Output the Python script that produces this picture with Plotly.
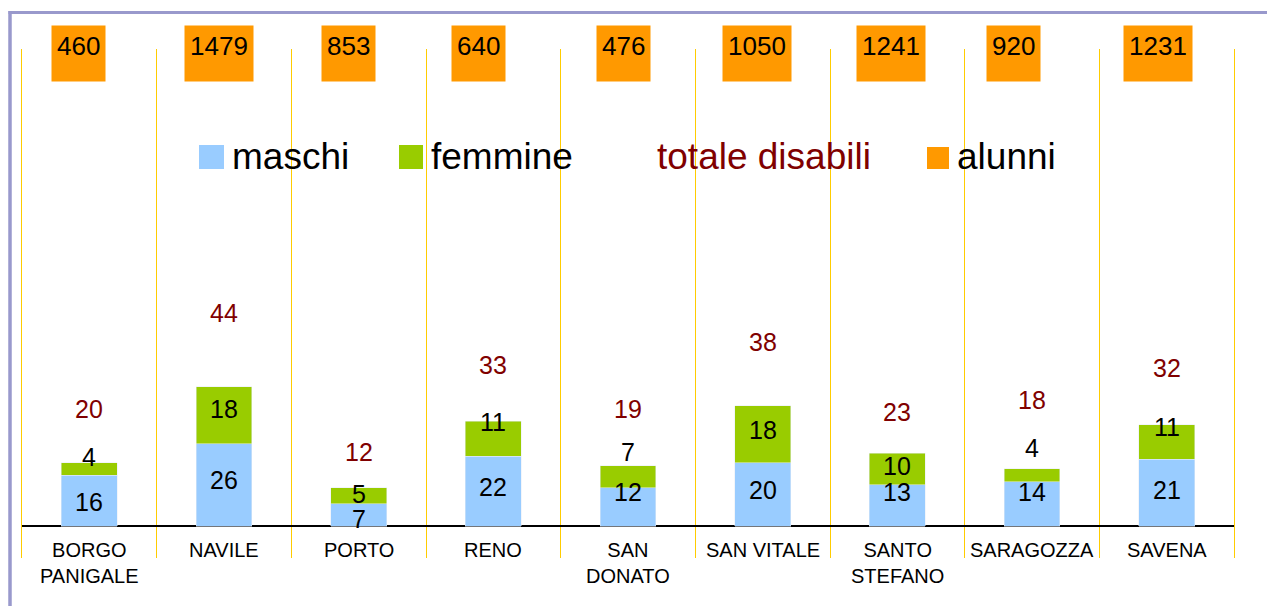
import plotly.graph_objects as go

# data
quartieri = ["BORGO<br>PANIGALE", "NAVILE", "PORTO", "RENO", "SAN<br>DONATO",
             "SAN VITALE", "SANTO<br>STEFANO", "SARAGOZZA", "SAVENA"]
maschi = [16, 26, 7, 22, 12, 20, 13, 14, 21]
femmine = [4, 18, 5, 11, 7, 18, 10, 4, 11]
totale_disabili = [20, 44, 12, 33, 19, 38, 23, 18, 32]
alunni = [460, 1479, 853, 640, 476, 1050, 1241, 920, 1231]

legend_names = ["maschi", "femmine", "totale disabili", "alunni"]

# label nudges in px (the original labels were dragged around a bit)
shift_tot = [54, 74, 36, 56, 57, 64, 41, 69, 57]
shift_fem = [12, 6, 2, 17, 25, 4, 3, 27, 15]
shift_mas = [-1, 5, -4, 4, 15, 4, 13, 12, 3]
shift_alunni = [-11, -5.5, -10, -15, -4.5, -5.5, -6.5, -18.5, -8.5]

BLUE = "#99CCFF"
GREEN = "#99CC00"
ORANGE = "#FF9900"
DARKRED = "#800000"
GOLD = "#FFCC00"
FONT = "Liberation Sans, Arial, sans-serif"

# the page body has an 8px margin, so the figure is a bit smaller than the window
OFF = 8
W, H = 1275 - OFF, 606 - OFF

# plot area in window px: x 22..1234, y 49..558
L, R, T, B = 22, 1234, 49, 558
PX_PER_UNIT = 3.17
ZERO_Y = 526


def paper_x(px):
    return (px - L) / (R - L)


def paper_y(py):
    return (B - py) / (B - T)


fig = go.Figure()
fig.add_trace(go.Bar(x=quartieri, y=maschi, name="maschi", marker_color=BLUE,
                     width=0.415, hoverinfo="x+y"))
fig.add_trace(go.Bar(x=quartieri, y=femmine, name="femmine", marker_color=GREEN,
                     width=0.415, hoverinfo="x+y"))

ann = []
for i, q in enumerate(quartieri):
    m, f, t = maschi[i], femmine[i], totale_disabili[i]
    ann.append(dict(x=q, y=m / 2, text=str(m), yshift=shift_mas[i],
                    font=dict(size=25, color="black")))
    ann.append(dict(x=q, y=m + f / 2, text=str(f), yshift=shift_fem[i],
                    font=dict(size=25, color="black")))
    ann.append(dict(x=q, y=t, text=str(t), yshift=shift_tot[i],
                    font=dict(size=25, color=DARKRED)))
    # category label under the axis
    ann.append(dict(x=q, y=0, text=q, yanchor="top", yshift=-11,
                    font=dict(size=20, color="black")))
    # alunni box on top
    ann.append(dict(x=q, y=paper_y(25), yref="paper", yanchor="top",
                    text=str(alunni[i]), xshift=shift_alunni[i],
                    bgcolor=ORANGE, borderpad=5, height=45, valign="top",
                    font=dict(size=26, color="black")))

# hand-drawn legend (big squares like the original)
legend_sq = [(199, 224, 145, 169), (399, 423, 145, 169), None, (927, 949, 147, 169)]
legend_txt_x = [233, 432, 658, 958]
legend_cols = [BLUE, GREEN, None, ORANGE]
shapes = []
for name, sq, tx, col in zip(legend_names, legend_sq, legend_txt_x, legend_cols):
    if sq:
        x0, x1, y0, y1 = sq
        shapes.append(dict(type="rect", xref="paper", yref="paper",
                           x0=paper_x(x0), x1=paper_x(x1),
                           y0=paper_y(y1), y1=paper_y(y0),
                           fillcolor=col, line_width=0))
    ann.append(dict(x=paper_x(tx - 3), y=paper_y(156), xref="paper", yref="paper",
                    xanchor="left", yanchor="middle", text=name,
                    font=dict(size=37, color=DARKRED if col is None else "black")))

# lavender frame, only top and left edges visible
shapes.append(dict(type="line", xref="paper", yref="paper",
                   x0=paper_x(8.5), x1=paper_x(1290), y0=paper_y(12.5), y1=paper_y(12.5),
                   line=dict(color="#9999CC", width=3)))
shapes.append(dict(type="line", xref="paper", yref="paper",
                   x0=paper_x(10), x1=paper_x(10), y0=paper_y(11), y1=paper_y(620),
                   line=dict(color="#9999CC", width=3.5)))

for a in ann:
    a.setdefault("showarrow", False)

fig.update_layout(
    barmode="stack",
    width=W, height=H,
    margin=dict(l=L - OFF, r=1275 - R, t=T - OFF, b=606 - B),
    paper_bgcolor="white", plot_bgcolor="white",
    font=dict(family=FONT),
    showlegend=False,
    annotations=ann,
    shapes=shapes,
    xaxis=dict(type="category", tickson="boundaries", showgrid=True,
               gridcolor=GOLD, gridwidth=1, showticklabels=False, ticks="",
               range=[-0.5, len(quartieri) - 0.5], fixedrange=True),
    yaxis=dict(range=[-(B - ZERO_Y) / PX_PER_UNIT, (ZERO_Y - T) / PX_PER_UNIT],
               showgrid=False, showticklabels=False, ticks="",
               zeroline=True, zerolinecolor="black", zerolinewidth=1.5,
               showline=True, linecolor=GOLD, linewidth=1, mirror=True,
               fixedrange=True),
)

fig.write_html("out.html")
